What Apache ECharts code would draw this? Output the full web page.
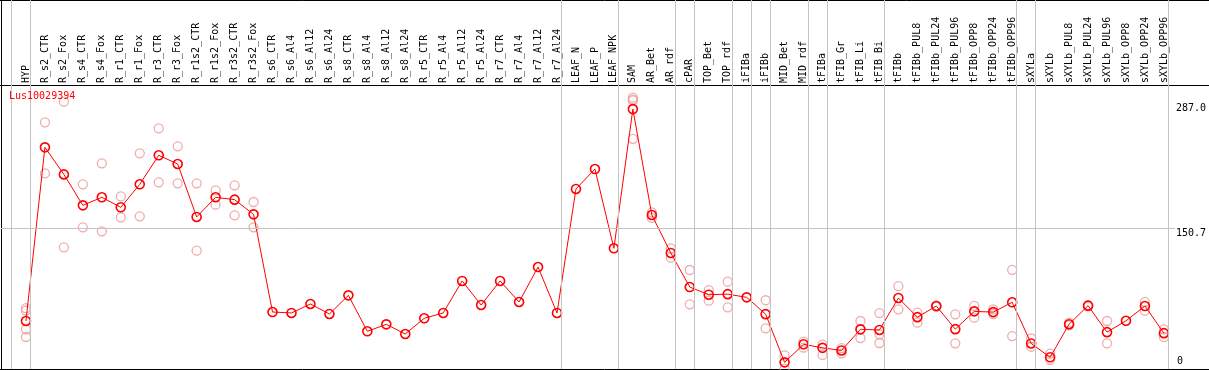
<!DOCTYPE html>
<html>
<head>
<meta charset="utf-8">
<script src="https://cdn.jsdelivr.net/npm/echarts@6/dist/echarts.min.js"></script>
<style>
  html, body { margin: 0; padding: 0; background: #fff; }
  #chart { width: 1209px; height: 370px; }
</style>
</head>
<body>
<div id="chart"></div>
<script>
// gene shown in the plot
const geneId = 'Lus10029394';

// samples, left to right
const categories = [
  'HYP', 'R_s2_CTR', 'R_s2_Fox', 'R_s4_CTR', 'R_s4_Fox', 'R_r1_CTR', 'R_r1_Fox', 'R_r3_CTR', 'R_r3_Fox',
  'R_r1s2_CTR', 'R_r1s2_Fox', 'R_r3s2_CTR', 'R_r3s2_Fox',
  'R_s6_CTR', 'R_s6_Al4', 'R_s6_Al12', 'R_s6_Al24', 'R_s8_CTR', 'R_s8_Al4', 'R_s8_Al12', 'R_s8_Al24',
  'R_r5_CTR', 'R_r5_Al4', 'R_r5_Al12', 'R_r5_Al24', 'R_r7_CTR', 'R_r7_Al4', 'R_r7_Al12', 'R_r7_Al24',
  'LEAF_N', 'LEAF_P', 'LEAF_NPK', 'SAM', 'AR_Bet', 'AR_rdf', 'cPAR', 'TOP_Bet', 'TOP_rdf',
  'iFIBa', 'iFIBb', 'MID_Bet', 'MID_rdf', 'tFIBa', 'tFIB_Gr', 'tFIB_Li', 'tFIB_Bi',
  'tFIBb', 'tFIBb_PUL8', 'tFIBb_PUL24', 'tFIBb_PUL96', 'tFIBb_OPP8', 'tFIBb_OPP24', 'tFIBb_OPP96',
  'sXYLa', 'sXYLb', 'sXYLb_PUL8', 'sXYLb_PUL24', 'sXYLb_PUL96', 'sXYLb_OPP8', 'sXYLb_OPP24', 'sXYLb_OPP96'
];

// mean expression per sample (red line)
const means = [
  51.3, 236.9, 208.0, 174.9, 183.5, 172.8, 197.4, 228.4, 219.1,
  162.5, 183.5, 181.0, 165.3,
  60.9, 59.9, 69.5, 58.8, 78.7, 40.3, 47.7, 37.4,
  54.2, 59.9, 94.1, 68.4, 94.1, 71.6, 109.0, 59.9,
  192.4, 213.7, 129.0, 277.8, 164.6, 124.0, 87.6, 79.4, 80.0,
  76.6, 58.6, 7.1, 26.4, 22.6, 19.8, 42.4, 41.7,
  75.9, 55.4, 67.3, 42.6, 61.6, 60.8, 71.3,
  27.3, 12.5, 47.9, 67.7, 39.4, 51.5, 67.3, 38.3
];

// replicate values per sample (pink circles)
const replicates = [
  [65, 62.5, 42.4, 34.2], [263.6, 209.1], [285.7, 130.0], [197.4, 151.4], [219.8, 147.1],
  [184.5, 162.1], [230.5, 163.2], [257.2, 199.5], [238.0, 198.4],
  [198.4, 126.5], [190.9, 175.6], [196.3, 164.2], [178.5, 151.4],
  [], [], [], [], [], [], [], [],
  [], [], [], [], [], [], [], [],
  [], [], [], [290, 288, 287, 246], [167.5, 161.5], [129.0, 119.0], [105.8, 69.1], [84.4, 73.0], [93.3, 65.9],
  [], [73.5, 43.5], [14.6, 0.3], [29.2, 22.8], [26.0, 15.0], [22.4, 16.7], [51.3, 33.0], [59.8, 37.1, 27.8],
  [88.5, 63.8], [60.2, 49.5], [67.8, 66.5], [58.4, 27.4], [67.5, 54.9], [63.8, 58.8], [106.0, 35.2],
  [32.6, 23.8], [16.4, 9.8], [49.5, 46.7], [68.2, 67.0], [51.3, 27.4], [], [71.8, 62.3], [42.4, 34.0]
];

// group separators are drawn after these sample indices
const separatorsAfter = [-1, 0, 28, 31, 34, 35, 37, 38, 39, 41, 42, 45, 52, 53, 60];

// y tick labels
const yTicks = [0, 150.7, 287.0];
const yTickText = ['0', '150.7', '287.0'];
const yGridAt = 150.7;

const FONT = 'DejaVu Sans Mono';
const xMin = -25 / 19;
const xMax = xMin + 1176 / 19;
const yMax = 369 / (141 / 150.7);

const meanData = means.map((v, i) => [i, v]);
const repData = [];
replicates.forEach((reps, i) => {
  reps.forEach((v) => repData.push([i, v]));
});

const tickText = (v) => {
  const k = yTicks.findIndex((t) => Math.abs(t - v) < 1e-6);
  if (k < 0) return '';
  // top label sits a little lower than its value
  return k === yTicks.length - 1 ? '{hi|' + yTickText[k] + '}' : yTickText[k];
};

const chart = echarts.init(document.getElementById('chart'), null, { renderer: 'canvas' });

const option = {
  animation: false,
  backgroundColor: '#fff',
  title: {
    text: geneId,
    left: 9,
    top: 91,
    padding: 0,
    textStyle: { color: '#ff0000', fontSize: 10, fontFamily: FONT, fontWeight: 'normal' }
  },
  grid: { left: 1, right: 32, top: 0, bottom: 1 },
  xAxis: {
    type: 'value',
    min: xMin,
    max: xMax,
    position: 'top',
    offset: -85,
    axisLine: { show: false },
    axisTick: { show: false },
    splitLine: { show: false },
    axisLabel: {
      customValues: categories.map((c, i) => i),
      formatter: (v) => categories[Math.round(v)] || '',
      rotate: 90,
      margin: 2,
      color: '#000',
      fontSize: 10,
      fontFamily: FONT
    }
  },
  yAxis: [
    {
      type: 'value',
      min: 0,
      max: yMax,
      position: 'right',
      axisLine: { show: false },
      axisTick: { show: false },
      splitLine: { show: false },
      axisLabel: {
        customValues: [yTicks[1], yTicks[2]],
        formatter: tickText,
        verticalAlign: 'top',
        align: 'left',
        margin: 1,
        padding: [0, 0, 0, 0],
        color: '#000',
        fontSize: 10,
        fontFamily: FONT,
        rich: {
          hi: { padding: [3, 0, 0, 0], color: '#000', fontSize: 10, fontFamily: FONT }
        }
      }
    },
    {
      type: 'value',
      min: 0,
      max: yMax,
      position: 'right',
      axisLine: { show: false },
      axisTick: { show: false },
      splitLine: { show: false },
      axisLabel: {
        customValues: [yTicks[0]],
        formatter: tickText,
        verticalAlign: 'bottom',
        align: 'left',
        margin: 2,
        padding: [0, 0, 3, 0],
        color: '#000',
        fontSize: 10,
        fontFamily: FONT
      }
    }
  ],
  graphic: [
    { type: 'line', shape: { x1: 0, y1: 0.5, x2: 1209, y2: 0.5 }, style: { stroke: '#000', lineWidth: 1 } },
    { type: 'line', shape: { x1: 0, y1: 85.5, x2: 1209, y2: 85.5 }, style: { stroke: '#000', lineWidth: 1 } },
    { type: 'line', shape: { x1: 0, y1: 369.5, x2: 1209, y2: 369.5 }, style: { stroke: '#000', lineWidth: 1 } },
    { type: 'line', shape: { x1: 1.5, y1: 0, x2: 1.5, y2: 370 }, style: { stroke: '#000', lineWidth: 1 } }
  ],
  series: [
    {
      name: 'replicates',
      type: 'scatter',
      data: repData,
      symbol: 'circle',
      symbolSize: 9,
      z: 2,
      silent: true,
      itemStyle: { color: 'rgba(255,255,255,0)', borderColor: '#eb9898', borderWidth: 1.3 },
      markLine: {
        silent: true,
        symbol: 'none',
        label: { show: false },
        lineStyle: { color: '#c4c4c4', width: 1, type: 'solid' },
        data: [{ yAxis: yGridAt }].concat(separatorsAfter.map((s) => ({ xAxis: s + 4.5 / 19 })))
      }
    },
    {
      name: geneId,
      type: 'line',
      data: meanData,
      symbol: 'circle',
      symbolSize: 9,
      z: 3,
      silent: true,
      itemStyle: { color: 'rgba(255,255,255,0)', borderColor: '#ff0000', borderWidth: 1.6 },
      lineStyle: { color: '#ff0000', width: 1 }
    }
  ]
};

chart.setOption(option);
</script>
</body>
</html>
